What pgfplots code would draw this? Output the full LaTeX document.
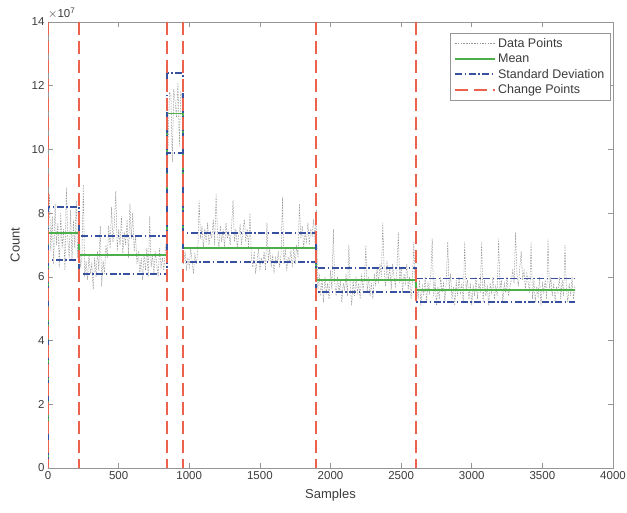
\documentclass[border=0pt]{standalone}
\usepackage{pgfplots}
\pgfplotsset{compat=1.18}
\usepackage{fontspec}
\setmainfont{Liberation Sans}
\definecolor{datagray}{RGB}{150,150,150}
\definecolor{meangreen}{RGB}{77,175,74}
\definecolor{stdblue}{RGB}{55,80,160}
\definecolor{cpred}{RGB}{236,98,76}
\definecolor{axgray}{RGB}{150,150,150}
\definecolor{txtgray}{RGB}{60,60,60}
\pgfplotsset{
  cpline/.style={cpred, line width=1.8pt, dash pattern=on 13pt off 6pt},
  stdline/.style={stdblue, line width=1.8pt, dash pattern=on 7pt off 2.5pt on 1.5pt off 2.5pt},
}
\begin{document}
\begin{tikzpicture}
\begin{axis}[
  scale only axis, width=565pt, height=446pt,
  xmin=0, xmax=4000, ymin=0, ymax=14,
  xtick={0,500,...,4000}, ytick={0,2,...,14},
  /pgf/number format/assume math mode=true,
  /pgf/number format/1000 sep={},
  tick align=inside, major tick length=5pt,
  axis line style={axgray, line width=0.6pt},
  tick style={axgray, line width=0.6pt},
  tick label style={font=\fontsize{11.5}{13}\selectfont, text=txtgray},
  xlabel={Samples}, ylabel={Count},
  label style={font=\fontsize{13}{15}\selectfont, text=txtgray},
  xlabel style={at={(axis description cs:0.5,-0.06)}, anchor=center},
  ylabel style={at={(axis description cs:-0.058,0.5)}, anchor=center},
  legend style={at={(rel axis cs:0.996,0.975)}, anchor=north east,
    draw=axgray, line width=0.6pt, fill=white, font=\fontsize{12.5}{14}\selectfont,
    text=txtgray, inner xsep=4pt, inner ysep=3pt, row sep=1pt},
  legend cell align=left,
  legend image code/.code={\draw[#1] (0pt,0pt) -- (40pt,0pt);},
]
\addplot[datagray, line width=0.5pt, dash pattern=on 1.5pt off 1.2pt] coordinates {
(0,7.1) (10,8.6) (20,6.8) (30,7.9) (40,6.4) (50,8.3) (60,7.0) (70,7.7) (80,6.3) (90,8.0) (100,6.9) (110,7.5) (120,6.2) (130,8.8) (140,7.2) (150,6.6) (160,8.1) (170,6.5) (180,7.8) (190,6.9) (200,8.4) (210,6.6) (220,7.6)
(230,6.3) (240,6.6) (250,8.9) (260,6.0) (270,6.5) (280,5.9) (290,6.7) (300,6.1) (310,6.4) (320,5.6) (330,6.6) (340,6.0) (350,6.8) (360,6.2) (370,7.6) (380,5.7) (390,6.5) (400,6.1) (410,7.0) (420,6.6) (430,7.6) (440,6.9) (450,8.2) (460,7.1) (470,7.7) (480,8.7) (490,6.8) (500,7.5) (510,7.0) (520,7.9) (530,6.7) (540,7.4) (550,7.0) (560,7.8) (570,6.6) (580,8.3) (590,7.2) (600,8.0) (610,6.8) (620,7.3) (630,6.4) (640,6.8) (650,6.1) (660,6.6) (670,5.9) (680,6.7) (690,6.2) (700,6.9) (710,6.0) (720,7.9) (730,6.3) (740,6.7) (750,6.1) (760,6.8) (770,6.4) (780,6.0) (790,6.9) (800,6.3) (810,6.6) (820,6.2) (830,6.8) (840,7.2)
(850,10.2) (860,11.8) (870,11.7) (880,9.6) (890,11.9) (900,11.5) (910,11.0) (920,12.1) (930,10.1) (940,11.8) (950,11.6)
(960,6.4) (970,6.8) (980,6.2) (990,6.6) (1000,6.3) (1010,6.9) (1020,6.5) (1030,6.1) (1040,6.7) (1050,6.4) (1060,6.8) (1070,8.4) (1080,7.2) (1090,7.6) (1100,6.9) (1110,7.5) (1120,7.1) (1130,7.7) (1140,7.0) (1150,7.4) (1160,7.2) (1170,7.8) (1180,7.0) (1190,8.6) (1200,7.3) (1210,6.9) (1220,7.6) (1230,7.1) (1240,7.5) (1250,6.9) (1260,7.7) (1270,7.2) (1280,7.4) (1290,7.0) (1300,7.6) (1310,8.4) (1320,7.1) (1330,7.5) (1340,6.9) (1350,7.3) (1360,7.6) (1370,7.0) (1380,7.4) (1390,7.8) (1400,7.1) (1410,7.5) (1420,6.9) (1430,8.0) (1440,6.6) (1450,6.3) (1460,6.8) (1470,6.1) (1480,6.5) (1490,6.9) (1500,6.2) (1510,6.6) (1520,6.4) (1530,6.8) (1540,6.2) (1550,7.7) (1560,6.5) (1570,6.9) (1580,6.3) (1590,6.7) (1600,6.1) (1610,6.6) (1620,6.4) (1630,6.8) (1640,6.3) (1650,6.7) (1660,8.5) (1670,6.4) (1680,6.9) (1690,6.2) (1700,6.6) (1710,6.5) (1720,6.8) (1730,6.3) (1740,6.9) (1750,6.4) (1760,7.0) (1770,6.6) (1780,8.3) (1790,7.2) (1800,7.6) (1810,6.9) (1820,7.4) (1830,7.1) (1840,7.7) (1850,7.0) (1860,7.5) (1870,7.3) (1880,7.8) (1890,7.1) (1900,8.1)
(1910,5.6) (1920,6.1) (1930,5.4) (1940,5.9) (1950,5.2) (1960,6.0) (1970,5.5) (1980,5.8) (1990,5.3) (2000,6.2) (2010,5.6) (2020,7.5) (2030,5.8) (2040,5.4) (2050,6.0) (2060,5.5) (2070,5.9) (2080,5.2) (2090,5.8) (2100,5.6) (2110,6.1) (2120,5.4) (2130,7.0) (2140,5.7) (2150,5.1) (2160,5.9) (2170,5.4) (2180,6.0) (2190,5.5) (2200,5.8) (2210,5.3) (2220,6.1) (2230,5.6) (2240,5.9) (2250,7.0) (2260,5.5) (2270,6.0) (2280,5.4) (2290,5.8) (2300,5.3) (2310,6.1) (2320,5.7) (2330,6.3) (2340,5.8) (2350,6.4) (2360,6.0) (2370,7.7) (2380,6.2) (2390,5.7) (2400,6.5) (2410,5.9) (2420,6.3) (2430,5.6) (2440,6.4) (2450,6.0) (2460,5.7) (2470,6.2) (2480,7.4) (2490,5.8) (2500,6.3) (2510,5.5) (2520,6.1) (2530,5.8) (2540,6.4) (2550,5.6) (2560,6.0) (2570,5.3) (2580,5.9) (2590,7.1) (2600,5.5)
(2610,5.8) (2620,5.3) (2630,5.9) (2640,5.1) (2650,5.7) (2660,5.4) (2670,6.0) (2680,5.2) (2690,5.8) (2700,5.5) (2710,6.1) (2720,7.2) (2730,5.4) (2740,5.9) (2750,5.1) (2760,5.7) (2770,5.3) (2780,6.0) (2790,5.5) (2800,5.8) (2810,5.2) (2820,5.9) (2830,7.1) (2840,5.6) (2850,6.1) (2860,5.3) (2870,5.7) (2880,5.1) (2890,5.9) (2900,5.4) (2910,6.0) (2920,5.5) (2930,5.8) (2940,5.2) (2950,7.1) (2960,5.6) (2970,5.9) (2980,5.3) (2990,5.8) (3000,5.1) (3010,5.7) (3020,5.4) (3030,6.0) (3040,5.3) (3050,5.8) (3060,5.5) (3070,7.1) (3080,5.2) (3090,5.9) (3100,5.4) (3110,5.7) (3120,5.1) (3130,5.8) (3140,5.5) (3150,6.0) (3160,5.3) (3170,5.7) (3180,5.4) (3190,7.2) (3200,5.6) (3210,5.9) (3220,5.2) (3230,5.8) (3240,5.5) (3250,6.0) (3260,5.4) (3270,5.7) (3280,5.9) (3290,6.2) (3300,5.8) (3310,7.4) (3320,6.1) (3330,5.7) (3340,6.3) (3350,6.8) (3360,5.9) (3370,6.2) (3380,5.6) (3390,6.1) (3400,5.8) (3410,5.5) (3420,7.1) (3430,5.3) (3440,5.9) (3450,5.2) (3460,5.7) (3470,5.4) (3480,6.0) (3490,5.1) (3500,5.8) (3510,5.5) (3520,5.9) (3530,5.3) (3540,7.2) (3550,5.6) (3560,6.0) (3570,5.4) (3580,5.8) (3590,5.2) (3600,5.7) (3610,5.5) (3620,6.0) (3630,5.3) (3640,5.9) (3650,5.4) (3660,7.0) (3670,5.6) (3680,5.2) (3690,5.8) (3700,5.4) (3710,6.0) (3720,5.3) (3730,5.7)
};
\addlegendentry{Data Points}
\addplot[meangreen, line width=1.8pt] coordinates {
(0,0) (0,7.37) (222,7.37) (222,6.69) (845,6.69) (845,11.13) (955,11.13) (955,6.91) (1900,6.91) (1900,5.90) (2603,5.90) (2603,5.59) (3733,5.59)};
\addlegendentry{Mean}
\addplot[stdline] coordinates {
(0,0) (0,8.20) (222,8.20) (222,7.28) (845,7.28) (845,12.39) (955,12.39) (955,7.37) (1900,7.37) (1900,6.29) (2603,6.29) (2603,5.95) (3733,5.95)};
\addlegendentry{Standard Deviation}
\addplot[stdline, forget plot] coordinates {
(0,0) (0,6.53) (222,6.53) (222,6.10) (845,6.10) (845,9.90) (955,9.90) (955,6.46) (1900,6.46) (1900,5.53) (2603,5.53) (2603,5.22) (3733,5.22)};
\addplot[cpline] coordinates {(0,14) (0,0)};
\addlegendentry{Change Points}
\addplot[cpline, forget plot] coordinates {(222,14) (222,0)};
\addplot[cpline, forget plot] coordinates {(845,14) (845,0)};
\addplot[cpline, forget plot] coordinates {(955,14) (955,0)};
\addplot[cpline, forget plot] coordinates {(1900,14) (1900,0)};
\addplot[cpline, forget plot] coordinates {(2603,14) (2603,0)};
\end{axis}
\node[anchor=south west, font=\fontsize{11.5}{13}\selectfont, text=txtgray, inner sep=0pt] at ([yshift=3pt]current axis.north west) {$\times$10\textsuperscript{7}};
\pgfresetboundingbox
\path ([xshift=-48pt,yshift=-44pt]current axis.south west) rectangle ([xshift=14pt,yshift=22pt]current axis.north east);
\end{tikzpicture}
\end{document}
